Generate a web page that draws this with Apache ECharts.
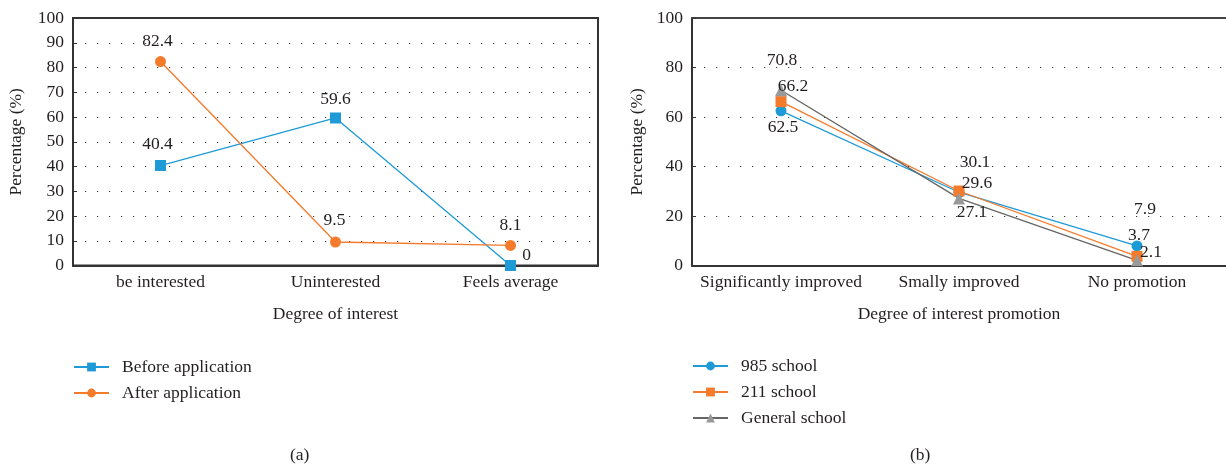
<!DOCTYPE html>
<html>
<head>
<meta charset="utf-8">
<script src="https://cdn.jsdelivr.net/npm/echarts@6/dist/echarts.min.js"></script>
<style>html,body{margin:0;padding:0;background:#fff;}#c{width:1226px;height:468px;}</style>
</head>
<body>
<div id="c"></div>
<script>
// ---- data (a) ----
const catsA = ['be interested', 'Uninterested', 'Feels average'];
const beforeApp = [40.4, 59.6, 0];
const afterApp = [82.4, 9.5, 8.1];
// ---- data (b) ----
const catsB = ['Significantly improved', 'Smally improved', 'No promotion'];
const school985 = [62.5, 29.6, 7.9];
const school211 = [66.2, 30.1, 3.7];
const schoolGen = [70.8, 27.1, 2.1];

// label offsets (style only)
const offBefore = [[-3,-21],[0,-19],[16,-10]];
const offAfter = [[-3,-20],[-1,-22],[0,-20]];
const off985 = [[2,17],[18,-9],[8,-37]];
const off211 = [[12,-15],[16,-29],[2,-21]];
const offGen = [[1,-30],[13,14],[14,-8]];

const FONT = '"Liberation Serif", "DejaVu Serif", serif';
const FS = 17.5;
const TXT = '#231f20';
const BLUE = '#1e9ad6', ORANGE = '#f47a2c', GRAYL = '#666666', GRAYS = '#999999';

function withLabels(vals, offs) {
  return vals.map((v, i) => ({
    value: v,
    label: { show: true, position: 'inside', offset: offs[i], formatter: String(v),
      fontFamily: FONT, fontSize: FS, color: TXT }
  }));
}

const chart = echarts.init(document.getElementById('c'), null, {renderer: 'canvas'});
const axisLab = { fontFamily: FONT, fontSize: FS, color: TXT };
const axisName = { fontFamily: FONT, fontSize: FS, color: TXT };
const dotted = { show: true, lineStyle: { color: '#333', width: 1.2, type: [1.2, 10.8] } };
const legendText = { fontFamily: FONT, fontSize: FS, color: TXT, padding: [0, 0, 0, 8] };

const option = {
  animation: false,
  textStyle: { fontFamily: FONT },
  grid: [
    { left: 73, top: 18, width: 525, height: 247.5, show: true, borderColor: '#333', borderWidth: 2, backgroundColor: 'transparent' },
    { left: 692, top: 18, width: 534, height: 247.5 }
  ],
  xAxis: [
    { gridIndex: 0, type: 'category', data: catsA,
      name: 'Degree of interest', nameLocation: 'middle', nameGap: 40, nameTextStyle: axisName,
      axisLine: { lineStyle: { color: '#333', width: 2 } },
      axisTick: { inside: true, alignWithLabel: true, length: 4, lineStyle: { color: '#333' } },
      axisLabel: Object.assign({ margin: 8, interval: 0 }, axisLab), splitLine: { show: false } },
    { gridIndex: 1, type: 'category', data: catsB,
      name: 'Degree of interest promotion', nameLocation: 'middle', nameGap: 40, nameTextStyle: axisName,
      axisLine: { lineStyle: { color: '#333', width: 2 } },
      axisTick: { inside: true, alignWithLabel: true, length: 4, lineStyle: { color: '#333' } },
      axisLabel: Object.assign({ margin: 8, interval: 0 }, axisLab), splitLine: { show: false } },
    { gridIndex: 1, type: 'category', data: catsB, position: 'top',
      axisLine: { lineStyle: { color: '#444', width: 2 } },
      axisTick: { show: false }, axisLabel: { show: false }, splitLine: { show: false } }
  ],
  yAxis: [
    { gridIndex: 0, type: 'value', min: 0, max: 100, interval: 10,
      name: 'Percentage (%)', nameLocation: 'middle', nameGap: 48, nameTextStyle: axisName,
      axisLine: { show: true, lineStyle: { color: '#333', width: 2 } },
      axisTick: { show: true, inside: true, length: 4, lineStyle: { color: '#333' } },
      axisLabel: Object.assign({ margin: 9 }, axisLab), splitLine: dotted },
    { gridIndex: 1, type: 'value', min: 0, max: 100, interval: 20,
      name: 'Percentage (%)', nameLocation: 'middle', nameGap: 46, nameTextStyle: axisName,
      axisLine: { show: true, lineStyle: { color: '#333', width: 2 } },
      axisTick: { show: true, inside: true, length: 4, lineStyle: { color: '#333' } },
      axisLabel: Object.assign({ margin: 9 }, axisLab), splitLine: dotted }
  ],
  legend: [
    { orient: 'vertical', left: 73, top: 358, padding: 0, itemWidth: 35, itemHeight: 11, itemGap: 8,
      textStyle: legendText,
      data: ['Before application', 'After application'] },
    { orient: 'vertical', left: 692, top: 357, padding: 0, itemWidth: 35, itemHeight: 11, itemGap: 8,
      textStyle: legendText,
      data: ['985 school', '211 school', 'General school'] }
  ],
  graphic: [
    { type: 'text', left: 290, top: 446, style: { text: '(a)', font: FS + 'px ' + FONT, fill: TXT } },
    { type: 'text', left: 910, top: 446, style: { text: '(b)', font: FS + 'px ' + FONT, fill: TXT } }
  ],
  series: [
    { name: 'Before application', type: 'line', xAxisIndex: 0, yAxisIndex: 0,
      data: withLabels(beforeApp, offBefore), symbol: 'rect', symbolSize: 11,
      itemStyle: { color: BLUE }, lineStyle: { color: BLUE, width: 1.3 } },
    { name: 'After application', type: 'line', xAxisIndex: 0, yAxisIndex: 0,
      data: withLabels(afterApp, offAfter), symbol: 'circle', symbolSize: 11,
      itemStyle: { color: ORANGE }, lineStyle: { color: ORANGE, width: 1.3 } },
    { name: '985 school', type: 'line', xAxisIndex: 1, yAxisIndex: 1,
      data: withLabels(school985, off985), symbol: 'circle', symbolSize: 11,
      itemStyle: { color: BLUE }, lineStyle: { color: BLUE, width: 1.3 } },
    { name: '211 school', type: 'line', xAxisIndex: 1, yAxisIndex: 1,
      data: withLabels(school211, off211), symbol: 'rect', symbolSize: 11,
      itemStyle: { color: ORANGE }, lineStyle: { color: ORANGE, width: 1.3 } },
    { name: 'General school', type: 'line', xAxisIndex: 1, yAxisIndex: 1,
      data: withLabels(schoolGen, offGen), symbol: 'triangle', symbolSize: 12,
      itemStyle: { color: GRAYS }, lineStyle: { color: GRAYL, width: 1.3 } }
  ]
};
chart.setOption(option);
</script>
</body>
</html>
